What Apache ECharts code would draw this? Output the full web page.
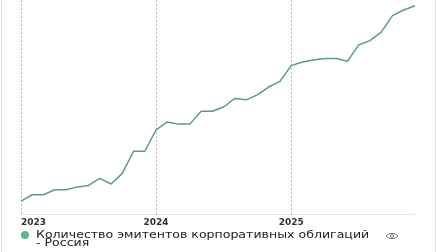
<!DOCTYPE html>
<html><head><meta charset="utf-8">
<script src="https://cdn.jsdelivr.net/npm/echarts@6/dist/echarts.min.js"></script>
<style>html,body{margin:0;padding:0;background:#fff}#c{width:437px;height:252px}</style>
</head><body><div id="c"></div>
<script>
const months = [
 '2023-01','2023-02','2023-03','2023-04','2023-05','2023-06','2023-07','2023-08','2023-09','2023-10','2023-11','2023-12',
 '2024-01','2024-02','2024-03','2024-04','2024-05','2024-06','2024-07','2024-08','2024-09','2024-10','2024-11','2024-12',
 '2025-01','2025-02','2025-03','2025-04','2025-05','2025-06','2025-07','2025-08','2025-09','2025-10','2025-11','2025-12'];
const issuers = [318,327,327,334,334,338,340,350,342,357,388,388,
 418,429,426,426,444,444,450,462,460,467,478,486,
 508,513,516,518,518,514,537,543,555,578,586,592];
const yearLabels = {'2023-01':'2023','2024-01':'2024','2025-01':'2025'};
const seriesName = 'Количество эмитентов корпоративных облигаций - Россия';
const legendLine1 = 'Количество эмитентов корпоративных облигаций';
const legendLine2 = '- Россия';

const chart = echarts.init(document.getElementById('c'), null, {renderer:'canvas'});
chart.setOption({
  animation:false,
  grid:{left:21,right:22,top:0,bottom:38},
  xAxis:{type:'category',data:months,boundaryGap:false,
    axisLine:{show:true,lineStyle:{color:'#e6e6e6',width:1}},
    axisTick:{show:false},
    axisLabel:{interval:0,formatter:v=>yearLabels[v]||'',color:'#333',fontFamily:'DejaVu Sans',fontWeight:'bold',fontSize:9,margin:4,alignMinLabel:'left'},
    splitLine:{show:true,interval:(i)=>i%12===0,lineStyle:{color:'#bdbdbd',type:[2,2],width:1}}
  },
  yAxis:{type:'value',min:300,max:600,show:false,splitLine:{show:false}},
  legend:{show:true,left:21,top:231,padding:0,itemWidth:8,itemHeight:8,icon:'circle',
    formatter:()=> '',
    textStyle:{fontSize:1},
    data:[{name:seriesName,itemStyle:{color:'#5cb88a'}}]},
  series:[{name:seriesName,type:'line',data:issuers,showSymbol:false,symbol:'none',
    lineStyle:{color:'#5c9c7c',width:1.5},itemStyle:{color:'#5cb88a'}}],
  graphic:[
    {type:'text',x:36,y:235.5,scaleX:1.255,style:{text:legendLine1,font:'10px "DejaVu Sans"',fill:'#222',verticalAlign:'middle'}},
    {type:'text',x:36,y:243,scaleX:1.255,style:{text:legendLine2,font:'10px "DejaVu Sans"',fill:'#222',verticalAlign:'middle'}},
    {type:'line',shape:{x1:1.5,y1:0,x2:1.5,y2:252},style:{stroke:'#e4e4e4',lineWidth:1}},
    {type:'line',shape:{x1:435.5,y1:0,x2:435.5,y2:252},style:{stroke:'#e4e4e4',lineWidth:1}},
    {type:'bezierCurve',shape:{x1:386,y1:236,x2:398,y2:236,cpx1:389,cpy1:232.5,cpx2:395,cpy2:232.5},style:{stroke:'#777',fill:null,lineWidth:1}},
    {type:'bezierCurve',shape:{x1:386,y1:236,x2:398,y2:236,cpx1:389,cpy1:239.5,cpx2:395,cpy2:239.5},style:{stroke:'#777',fill:null,lineWidth:1}},
    {type:'circle',shape:{cx:392,cy:236,r:1.6},style:{stroke:'#777',fill:null,lineWidth:1}}
  ]
});
</script></body></html>
